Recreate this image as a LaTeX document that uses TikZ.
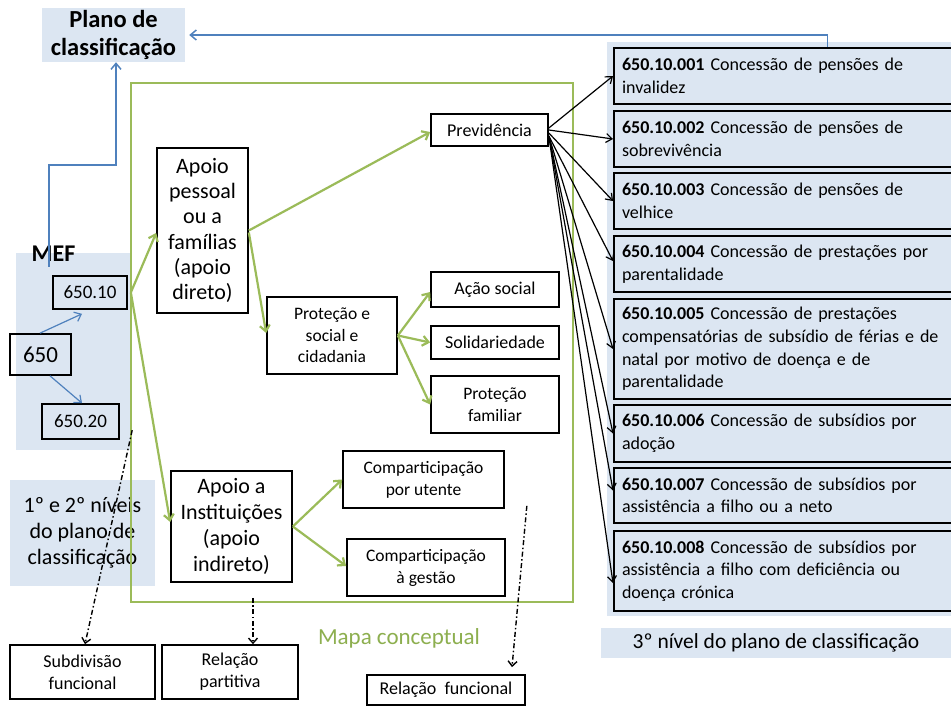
\documentclass[tikz,border=0pt]{standalone}
\usepackage{fontspec}
\setmainfont{Carlito}
\usetikzlibrary{arrows.meta}
\definecolor{lb}{HTML}{DCE6F2}
\definecolor{gr}{HTML}{9BBB59}
\definecolor{mapag}{HTML}{8DAF4F}
\definecolor{bl}{HTML}{4F81BD}
\newcommand{\fs}[2]{\fontsize{#1}{#2}\selectfont}
\begin{document}
\begin{tikzpicture}[x=1pt,y=-1pt,
  panel/.style={fill=lb, inner sep=0pt, align=center},
  box/.style={draw=black, line width=1.7pt, fill=white, inner sep=0pt, align=center},
  rbox/.style={draw=black, line width=2pt, fill=lb, anchor=north west, align=left,
    text width=338pt, inner xsep=8pt, inner ysep=0pt, font=\fs{18}{22.6}},
  garrow/.style={draw=gr, line width=2.2pt, -{Straight Barb[length=6pt,width=10pt]}},
  barrow/.style={draw=bl, line width=1.5pt, -{Straight Barb[length=6pt,width=10pt]}},
  karrow/.style={draw=black, line width=1.2pt, -{Straight Barb[length=6pt,width=9pt]}},
  darrow/.style={draw=black, line width=1.4pt, dash pattern=on 5pt off 2.5pt on 1.5pt off 2.5pt,
    -{Straight Barb[length=5pt,width=9pt]}},
]
\useasboundingbox (0,0) rectangle (951,707);
\clip (0,0) rectangle (951,707);
\fill[white] (0,0) rectangle (951,707);

% background panels
\node[panel, minimum width=344pt, minimum height=574pt] (rpanel) at (779,329) {};
\node[panel, minimum width=350pt, minimum height=30pt, font=\fs{21.5}{24}] (nivel3) at (776,643) {3º nível do plano de classificação};
\node[panel, minimum width=114pt, minimum height=197pt] (mefbg) at (73,351.5) {};
\node[panel, minimum width=143pt, minimum height=54pt, font=\bfseries\fs{24.5}{28}] (plano) at (113.5,35) {Plano de\\classificação};
\node[panel, minimum width=145pt, minimum height=106pt, font=\fs{22}{26}] (niveis) at (82.5,533) {1º e 2º níveis\\do plano de\\classificação};

% conceptual map frame
\node[draw=gr, line width=1.2pt, minimum width=442pt, minimum height=519pt, inner sep=0pt] (frame) at (352,342.5) {};
\node[font=\fs{23}{26}, text=mapag] (mapa) at (399,638) {Mapa conceptual};

% MEF
\node[font=\bfseries\fs{24}{28}] (mef) at (53.5,253.5) {MEF};
\node[box, fill=none, minimum width=74pt, minimum height=33pt, font=\fs{19}{22}] (n65010) at (90,292.5) {650.10};
\node[box, fill=none, minimum width=61pt, minimum height=41pt, font=\fs{23}{26}] (n650) at (40.5,354.5) {650};
\node[box, fill=none, minimum width=77pt, minimum height=35pt, font=\fs{19}{22}] (n65020) at (80.5,421.5) {650.20};

% concept boxes
\node[box, minimum width=91pt, minimum height=165pt, font=\fs{22}{25.3}] (apoiop) at (202.5,230.5) {Apoio\\pessoal\\ou a\\famílias\\(apoio\\direto)};
\node[box, minimum width=121pt, minimum height=111pt, font=\fs{22}{25.7}] (apoioi) at (231.5,526.5) {Apoio a\\Instituições\\(apoio\\indireto)};
\node[box, minimum width=117pt, minimum height=32pt, font=\fs{18}{21}] (prev) at (489.5,130) {Previdência};
\node[box, minimum width=130pt, minimum height=77pt, font=\fs{17.5}{21.5}] (protec) at (332,335.5) {Proteção e\\social e\\cidadania};
\node[box, minimum width=128pt, minimum height=35pt, font=\fs{18}{21}] (acao) at (495,289.5) {Ação social};
\node[box, minimum width=128pt, minimum height=33pt, font=\fs{18}{21}] (solid) at (495,342.5) {Solidariedade};
\node[box, minimum width=128pt, minimum height=57pt, font=\fs{17.5}{22}] (protf) at (495,404.5) {Proteção\\familiar};
\node[box, minimum width=161pt, minimum height=57pt, font=\fs{17.5}{22}] (cutente) at (423.5,479.5) {Comparticipação\\por utente};
\node[box, minimum width=158pt, minimum height=57pt, font=\fs{17.5}{22}] (cgestao) at (426,567.5) {Comparticipação\\à gestão};

% bottom relation boxes
\node[box, minimum width=145pt, minimum height=54pt, font=\fs{18}{22}] (subdiv) at (82.5,672) {Subdivisão\\funcional};
\node[box, minimum width=136pt, minimum height=54pt, font=\fs{18}{22}] (relpart) at (230,672) {Relação\\partitiva};
\node[box, minimum width=158pt, minimum height=30pt, font=\fs{18}{22}] (relfunc) at (446,690) {Relação~ funcional};

% third level boxes
\node[rbox, minimum height=56pt] (b1) at (613,47) {\textbf{650.10.001} Concessão de pensões de\\invalidez};
\node[rbox, minimum height=56pt] (b2) at (613,110) {\textbf{650.10.002} Concessão de pensões de\\sobrevivência};
\node[rbox, minimum height=56pt] (b3) at (613,172) {\textbf{650.10.003} Concessão de pensões de\\velhice};
\node[rbox, minimum height=56pt] (b4) at (613,235) {\textbf{650.10.004} Concessão de prestações por\\parentalidade};
\node[rbox, minimum height=100pt] (b5) at (613,298) {\textbf{650.10.005} Concessão de prestações\\compensatórias de subsídio de férias e de\\natal por motivo de doença e de\\parentalidade};
\node[rbox, minimum height=57pt] (b6) at (613,404) {\textbf{650.10.006} Concessão de subsídios por\\adoção};
\node[rbox, minimum height=55pt] (b7) at (613,467) {\textbf{650.10.007} Concessão de subsídios por\\assistência a filho ou a neto};
\node[rbox, minimum height=80pt] (b8) at (613,530) {\textbf{650.10.008} Concessão de subsídios por\\assistência a filho com deficiência ou\\doença crónica};

% blue connectors
\draw[barrow] ([xshift=-24pt,yshift=-14pt]mefbg.north) -- ++(0,-102) -| ([xshift=2.5pt]plano.south);
\draw[barrow] ([xshift=36.5pt]b1.north) |- ([xshift=4pt]plano.east);
\draw[barrow, line width=1.2pt] ([xshift=-0.5pt]n650.north) -- ([xshift=-8pt,yshift=-4pt]n65010.south);
\draw[barrow, line width=1.2pt] ([xshift=9.5pt]n650.south) -- ([xshift=1.5pt]n65020.north);

% green connectors
\draw[garrow] ([xshift=3pt]n65010.east) -- ([yshift=-2.5pt]apoiop.west);
\draw[garrow] ([xshift=3pt]n65010.east) -- ([yshift=4.5pt]apoioi.west);
\draw[garrow] (apoiop.east) -- ([yshift=-2pt]prev.west);
\draw[garrow] ([yshift=-2pt]apoiop.east) -- ([yshift=2.5pt]protec.west);
\draw[garrow] (protec.east) -- ([yshift=-2.5pt]acao.west);
\draw[garrow] (protec.east) -- (solid.west);
\draw[garrow] (protec.east) -- (protf.west);
\draw[garrow] (apoioi.east) -- (cutente.west);
\draw[garrow] (apoioi.east) -- ([yshift=1.5pt]cgestao.west);

% black connectors
\draw[karrow] ([yshift=2pt]prev.east) -- (b1.west);
\draw[karrow] (prev.east) -- (b2.west);
\draw[karrow] ([yshift=-3pt]prev.east) -- (b3.west);
\draw[karrow] ([yshift=-6pt]prev.east) -- ([yshift=3pt]b4.west);
\draw[karrow] ([yshift=-6pt]prev.east) -- (b5.west);
\draw[karrow] ([yshift=-6pt]prev.east) -- (b6.west);
\draw[karrow] ([yshift=-6pt]prev.east) -- ([yshift=5pt]b7.west);
\draw[karrow] ([yshift=-6pt]prev.east) -- ([yshift=-12pt]b8.west);

% dash-dot connectors
\draw[darrow] ([xshift=2pt,yshift=20pt]mefbg.south east) -- ([xshift=2.5pt]subdiv.north);
\draw[darrow] ([xshift=21.5pt,yshift=-15pt]apoioi.south) -- ([xshift=23pt]relpart.north);
\coordinate (dtop) at ([xshift=22pt,yshift=3pt]cutente.south east);
\draw[darrow] (dtop) -- ([xshift=66pt,yshift=7pt]relfunc.north);
\end{tikzpicture}
\end{document}
